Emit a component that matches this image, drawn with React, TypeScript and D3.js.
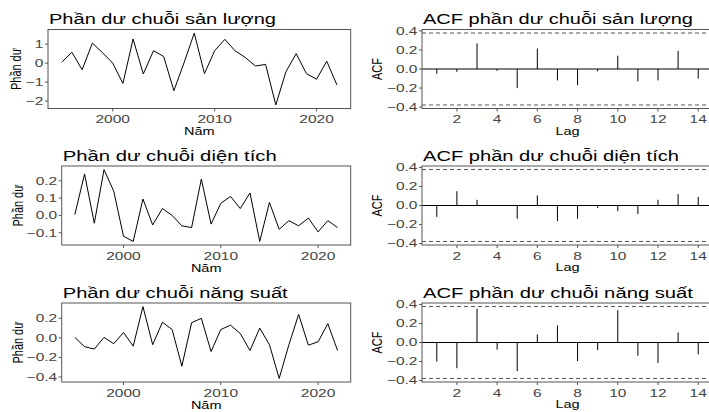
import React from "react";
import * as d3 from "d3";

const years = [1995,1996,1997,1998,1999,2000,2001,2002,2003,2004,2005,2006,2007,2008,2009,2010,2011,2012,2013,2014,2015,2016,2017,2018,2019,2020,2021,2022];
const residSanLuong = [0.05,0.57,-0.35,1.05,0.55,0.0,-1.07,1.27,-0.57,0.65,0.35,-1.45,0.02,1.58,-0.55,0.65,1.25,0.65,0.3,-0.15,-0.07,-2.2,-0.45,0.5,-0.55,-0.85,0.1,-1.15];
const residDienTich = [0.005,0.24,-0.045,0.265,0.14,-0.12,-0.15,0.095,-0.055,0.04,0.0,-0.06,-0.07,0.21,-0.05,0.07,0.11,0.04,0.13,-0.15,0.075,-0.08,-0.03,-0.06,-0.015,-0.095,-0.03,-0.07];
const residNangSuat = [0.005,-0.09,-0.115,0.005,-0.06,0.055,-0.085,0.32,-0.07,0.16,0.085,-0.29,0.155,0.2,-0.14,0.085,0.13,0.045,-0.13,0.1,-0.07,-0.415,-0.07,0.24,-0.075,-0.04,0.145,-0.13];

const lags = [1,2,3,4,5,6,7,8,9,10,11,12,13,14];
const acfSanLuong = [-0.05,-0.03,0.27,-0.02,-0.2,0.215,-0.12,-0.17,-0.025,0.14,-0.13,-0.12,0.19,-0.1];
const acfDienTich = [-0.12,0.15,0.06,0.005,-0.14,0.105,-0.165,-0.14,-0.025,-0.06,-0.09,0.06,0.12,0.09];
const acfNangSuat = [-0.2,-0.27,0.355,-0.075,-0.3,0.085,0.18,-0.195,-0.08,0.34,-0.14,-0.215,0.105,-0.125];
const ciBound = 0.378;

const yearTicks = [2000, 2010, 2020];
const lagTicks = [2, 4, 6, 8, 10, 12, 14];
const acfTicks = [-0.4, -0.2, 0.0, 0.2, 0.4];
const ticksSanLuong = [-2, -1, 0, 1];
const ticksDienTich = [-0.1, 0.0, 0.1, 0.2];
const ticksNangSuat = [-0.4, -0.2, 0.0, 0.2];

const leftTitles = ["Phần dư chuỗi sản lượng", "Phần dư chuỗi diện tích", "Phần dư chuỗi năng suất"];
const rightTitles = ["ACF phần dư chuỗi sản lượng", "ACF phần dư chuỗi diện tích", "ACF phần dư chuỗi năng suất"];

const FONT = "'Liberation Sans', Arial, sans-serif";
const SQ = 0.78;
const BORDER = "#555";
const TICKCOL = "#555";
const LABCOL = "#444";
const TICK_SIZE = 11;
const TICK_SX = 1.41;
const AXT_SIZE = 11;
const AXT_SX = 1.32;
const TITLE_SIZE = 15.2;
const TITLE_SX = 1.28;

const minus = (s: string) => s.replace("-", "\u2212");

function SText({ x, y, children, anchor = "start", size = TICK_SIZE, sx = TICK_SX, fill = "#000", textLength }: any) {
  return (
    <text
      transform={`translate(${x},${y}) scale(${sx},1)`}
      textAnchor={anchor}
      fontSize={size}
      fontFamily={FONT}
      fill={fill}
      textLength={textLength}
      lengthAdjust={textLength ? "spacingAndGlyphs" : undefined}
    >
      {children}
    </text>
  );
}

function VText({ x, y, children }: any) {
  return (
    <text
      transform={`translate(${x},${y}) rotate(-90) scale(${SQ},1)`}
      textAnchor="middle"
      fontSize={14}
      fontFamily={FONT}
      fill="#000"
    >
      {children}
    </text>
  );
}

function LinePanel({ left, right, top, bottom, values, ticks, fmt, title, titleLen, ytx }: any) {
  const span = years[years.length - 1] - years[0];
  const x = d3.scaleLinear().domain([years[0] - span * 0.05, years[years.length - 1] + span * 0.05]).range([left, right]);
  const [mn, mx] = d3.extent(values as number[]) as [number, number];
  const pad = (mx - mn) * 0.05;
  const y = d3.scaleLinear().domain([mn - pad, mx + pad]).range([bottom, top]);
  const line = d3.line<number>().x((_, i) => x(years[i])).y((d) => y(d));
  return (
    <g>
      <SText x={left + 1} y={top - 5.5} size={TITLE_SIZE} sx={TITLE_SX} textLength={titleLen / TITLE_SX}>{title}</SText>
      <path d={line(values) || ""} fill="none" stroke="#000" strokeWidth={1} />
      <rect x={left} y={top} width={right - left} height={bottom - top} fill="none" stroke={BORDER} strokeWidth={1} />
      {ticks.map((t: number) => (
        <g key={t}>
          <line x1={left - 3} x2={left} y1={y(t)} y2={y(t)} stroke={TICKCOL} />
          <SText x={left - 4.5} y={y(t) + 3.9} anchor="end" fill={LABCOL}>{minus(fmt(t))}</SText>
        </g>
      ))}
      {yearTicks.map((t) => (
        <g key={t}>
          <line x1={x(t)} x2={x(t)} y1={bottom} y2={bottom + 3} stroke={TICKCOL} />
          <SText x={x(t)} y={bottom + 14.5} anchor="middle" fill={LABCOL}>{t}</SText>
        </g>
      ))}
      <SText x={(left + right) / 2} y={bottom + 26.5} anchor="middle" size={AXT_SIZE} sx={AXT_SX}>Năm</SText>
      <VText x={ytx} y={(top + bottom) / 2}>Phần dư</VText>
    </g>
  );
}

function AcfPanel({ left, top, bottom, values, title, titleLen }: any) {
  const x = d3.scaleLinear().domain([0.265, 14.735]).range([left, left + 291]);
  const y = d3.scaleLinear().domain([-0.415, 0.415]).range([bottom, top]);
  const right = x(14.735);
  return (
    <g>
      <SText x={left + 1} y={top - 5.5} size={TITLE_SIZE} sx={TITLE_SX} textLength={titleLen / TITLE_SX}>{title}</SText>
      <line x1={left} x2={right} y1={y(ciBound)} y2={y(ciBound)} stroke="#555" strokeDasharray="4,3" />
      <line x1={left} x2={right} y1={y(-ciBound)} y2={y(-ciBound)} stroke="#555" strokeDasharray="4,3" />
      <line x1={left} x2={right} y1={y(0)} y2={y(0)} stroke="#000" />
      {values.map((v: number, i: number) => (
        <line key={i} x1={x(lags[i])} x2={x(lags[i])} y1={y(0)} y2={y(v)} stroke="#000" />
      ))}
      <rect x={left} y={top} width={right - left} height={bottom - top} fill="none" stroke={BORDER} strokeWidth={1} />
      {acfTicks.map((t) => (
        <g key={t}>
          <line x1={left - 3} x2={left} y1={y(t)} y2={y(t)} stroke={TICKCOL} />
          <SText x={left - 4.5} y={y(t) + 3.9} anchor="end" fill={LABCOL}>{minus(t.toFixed(1))}</SText>
        </g>
      ))}
      {lagTicks.map((t) => (
        <g key={t}>
          <line x1={x(t)} x2={x(t)} y1={bottom} y2={bottom + 3} stroke={TICKCOL} />
          <SText x={x(t)} y={bottom + 14.5} anchor="middle" fill={LABCOL}>{t}</SText>
        </g>
      ))}
      <SText x={x(7.5)} y={bottom + 26} anchor="middle" size={AXT_SIZE} sx={AXT_SX}>Lag</SText>
      <VText x={381.5} y={(top + bottom) / 2}>ACF</VText>
    </g>
  );
}

export default function App() {
  const tops = [29.5, 166, 303];
  const H = 79;
  const fmt0 = (d: number) => d3.format("d")(d);
  const fmt1 = (d: number) => d3.format(".1f")(d);
  const series = [residSanLuong, residDienTich, residNangSuat];
  const acfs = [acfSanLuong, acfDienTich, acfNangSuat];
  const tickSets = [ticksSanLuong, ticksDienTich, ticksNangSuat];
  const lefts = [48, 61.7, 61.7];
  const ytxs = [21, 22.5, 22.5];
  const leftTitleLens = [227, 214, 225];
  const rightTitleLens = [270, 256, 270];
  return (
    <svg width={709} height={412} style={{ position: "absolute", left: 0, top: 0, background: "#fff" }}>
      <rect width={709} height={412} fill="#fff" />
      {series.map((s, i) => (
        <LinePanel
          key={i}
          left={lefts[i]}
          right={350.7}
          top={tops[i]}
          bottom={tops[i] + H}
          values={s}
          ticks={tickSets[i]}
          fmt={i === 0 ? fmt0 : fmt1}
          title={leftTitles[i]}
          titleLen={leftTitleLens[i]}
          ytx={ytxs[i]}
        />
      ))}
      {acfs.map((a, i) => (
        <AcfPanel
          key={i}
          left={422}
          top={tops[i]}
          bottom={tops[i] + H}
          values={a}
          title={rightTitles[i]}
          titleLen={rightTitleLens[i]}
        />
      ))}
    </svg>
  );
}
